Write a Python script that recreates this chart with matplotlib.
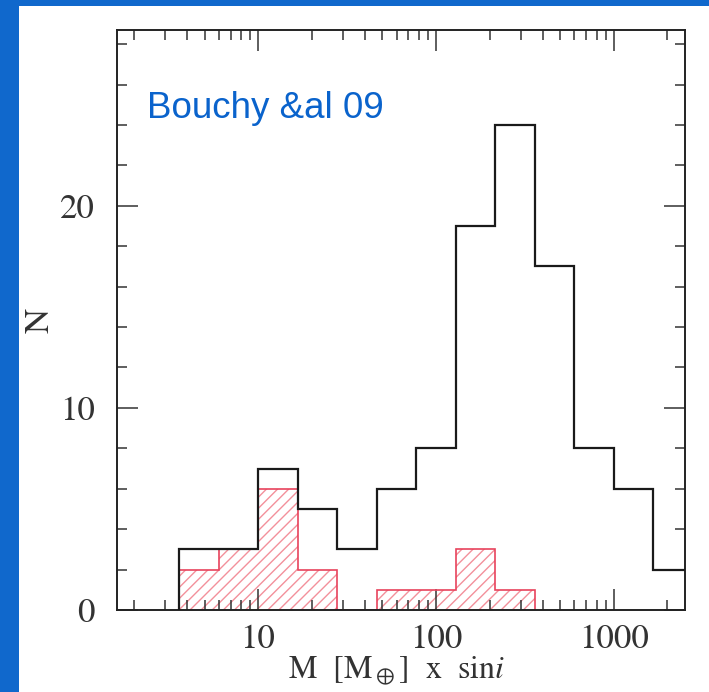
import numpy as np
import matplotlib
matplotlib.use('Agg')
import matplotlib.pyplot as plt
from matplotlib.patches import Rectangle

# log-spaced bins: 9 bins per two decades, edges from ~3.6 to ~2800 M_earth
bin_exp = [5/9, 7/9, 1, 11/9, 13/9, 15/9, 17/9, 19/9, 21/9, 23/9, 25/9, 3, 29/9, 31/9]
edges = 10 ** np.array(bin_exp)

# all planets (black)
n_all = [3, 3, 7, 5, 3, 6, 8, 19, 24, 17, 8, 6, 2]
# HARPS low-mass sample (red hatched)
n_harps = [2, 3, 6, 2, 0, 1, 1, 3, 1]

y_ticks = [0, 10, 20]
x_ticks = [10, 100, 1000]

blue = '#1068cc'
plt.rcParams['mathtext.fontset'] = 'stix'
plt.rcParams['hatch.linewidth'] = 1.0

fig = plt.figure(figsize=(7.09, 6.92), dpi=100)
fig.patch.set_facecolor(blue)
panel = Rectangle((19/709, 0), 1, 686/692, transform=fig.transFigure,
                  facecolor='white', edgecolor='none', zorder=-1)
fig.add_artist(panel)

ax = fig.add_axes([117/709, 82/692, 568/709, 580/692])
ax.set_zorder(1)
ax.set_facecolor('white')

ax.stairs(n_harps, edges[:len(n_harps) + 1], fill=True, hatch='///',
          facecolor='none', edgecolor='#f3909b', linewidth=0, zorder=1)
ax.stairs(n_harps, edges[:len(n_harps) + 1], color='#e8435c', linewidth=1.2, zorder=2)
ax.stairs(n_all, edges, color='#1a1a1a', linewidth=1.6, zorder=3)

ax.set_xscale('log')
ax.set_xlim(1.61, 2510)
ax.set_ylim(0, 28.7)
ax.set_xticks(x_ticks)
ax.set_xticklabels([str(v) for v in x_ticks])
ax.set_yticks(y_ticks)
ax.set_yticks(np.arange(0, 29, 2), minor=True)

for s in ax.spines.values():
    s.set_linewidth(1.4)
    s.set_color('#222222')

ax.tick_params(which='both', direction='in', top=True, right=True, color='#333333')
ax.tick_params(which='major', length=15, width=1.1)
ax.tick_params(which='minor', length=7.5, width=1.1)
ax.tick_params(axis='x', pad=10)
ax.tick_params(axis='y', pad=16)
for lab in ax.get_xticklabels() + ax.get_yticklabels():
    lab.set_fontfamily('STIXGeneral')
    lab.set_fontsize(25)
    lab.set_color('#333333')

ax.set_xlabel(r'M  [M$_\oplus$]  x  sin$i$', fontfamily='STIXGeneral', fontsize=23,
              color='#333333')
ax.xaxis.set_label_coords(0.493, -0.077)
ax.set_ylabel('N', fontfamily='STIXGeneral', fontsize=25, color='#333333')
ax.yaxis.set_label_coords(-0.106, 0.5)

ax.text(147/709, 1 - 108/692, 'Bouchy &al 09', transform=fig.transFigure,
        fontfamily='Liberation Sans', fontsize=26.5, color='#0a63cc',
        ha='left', va='center')

fig.savefig('out.png', dpi=100, facecolor=fig.get_facecolor())
